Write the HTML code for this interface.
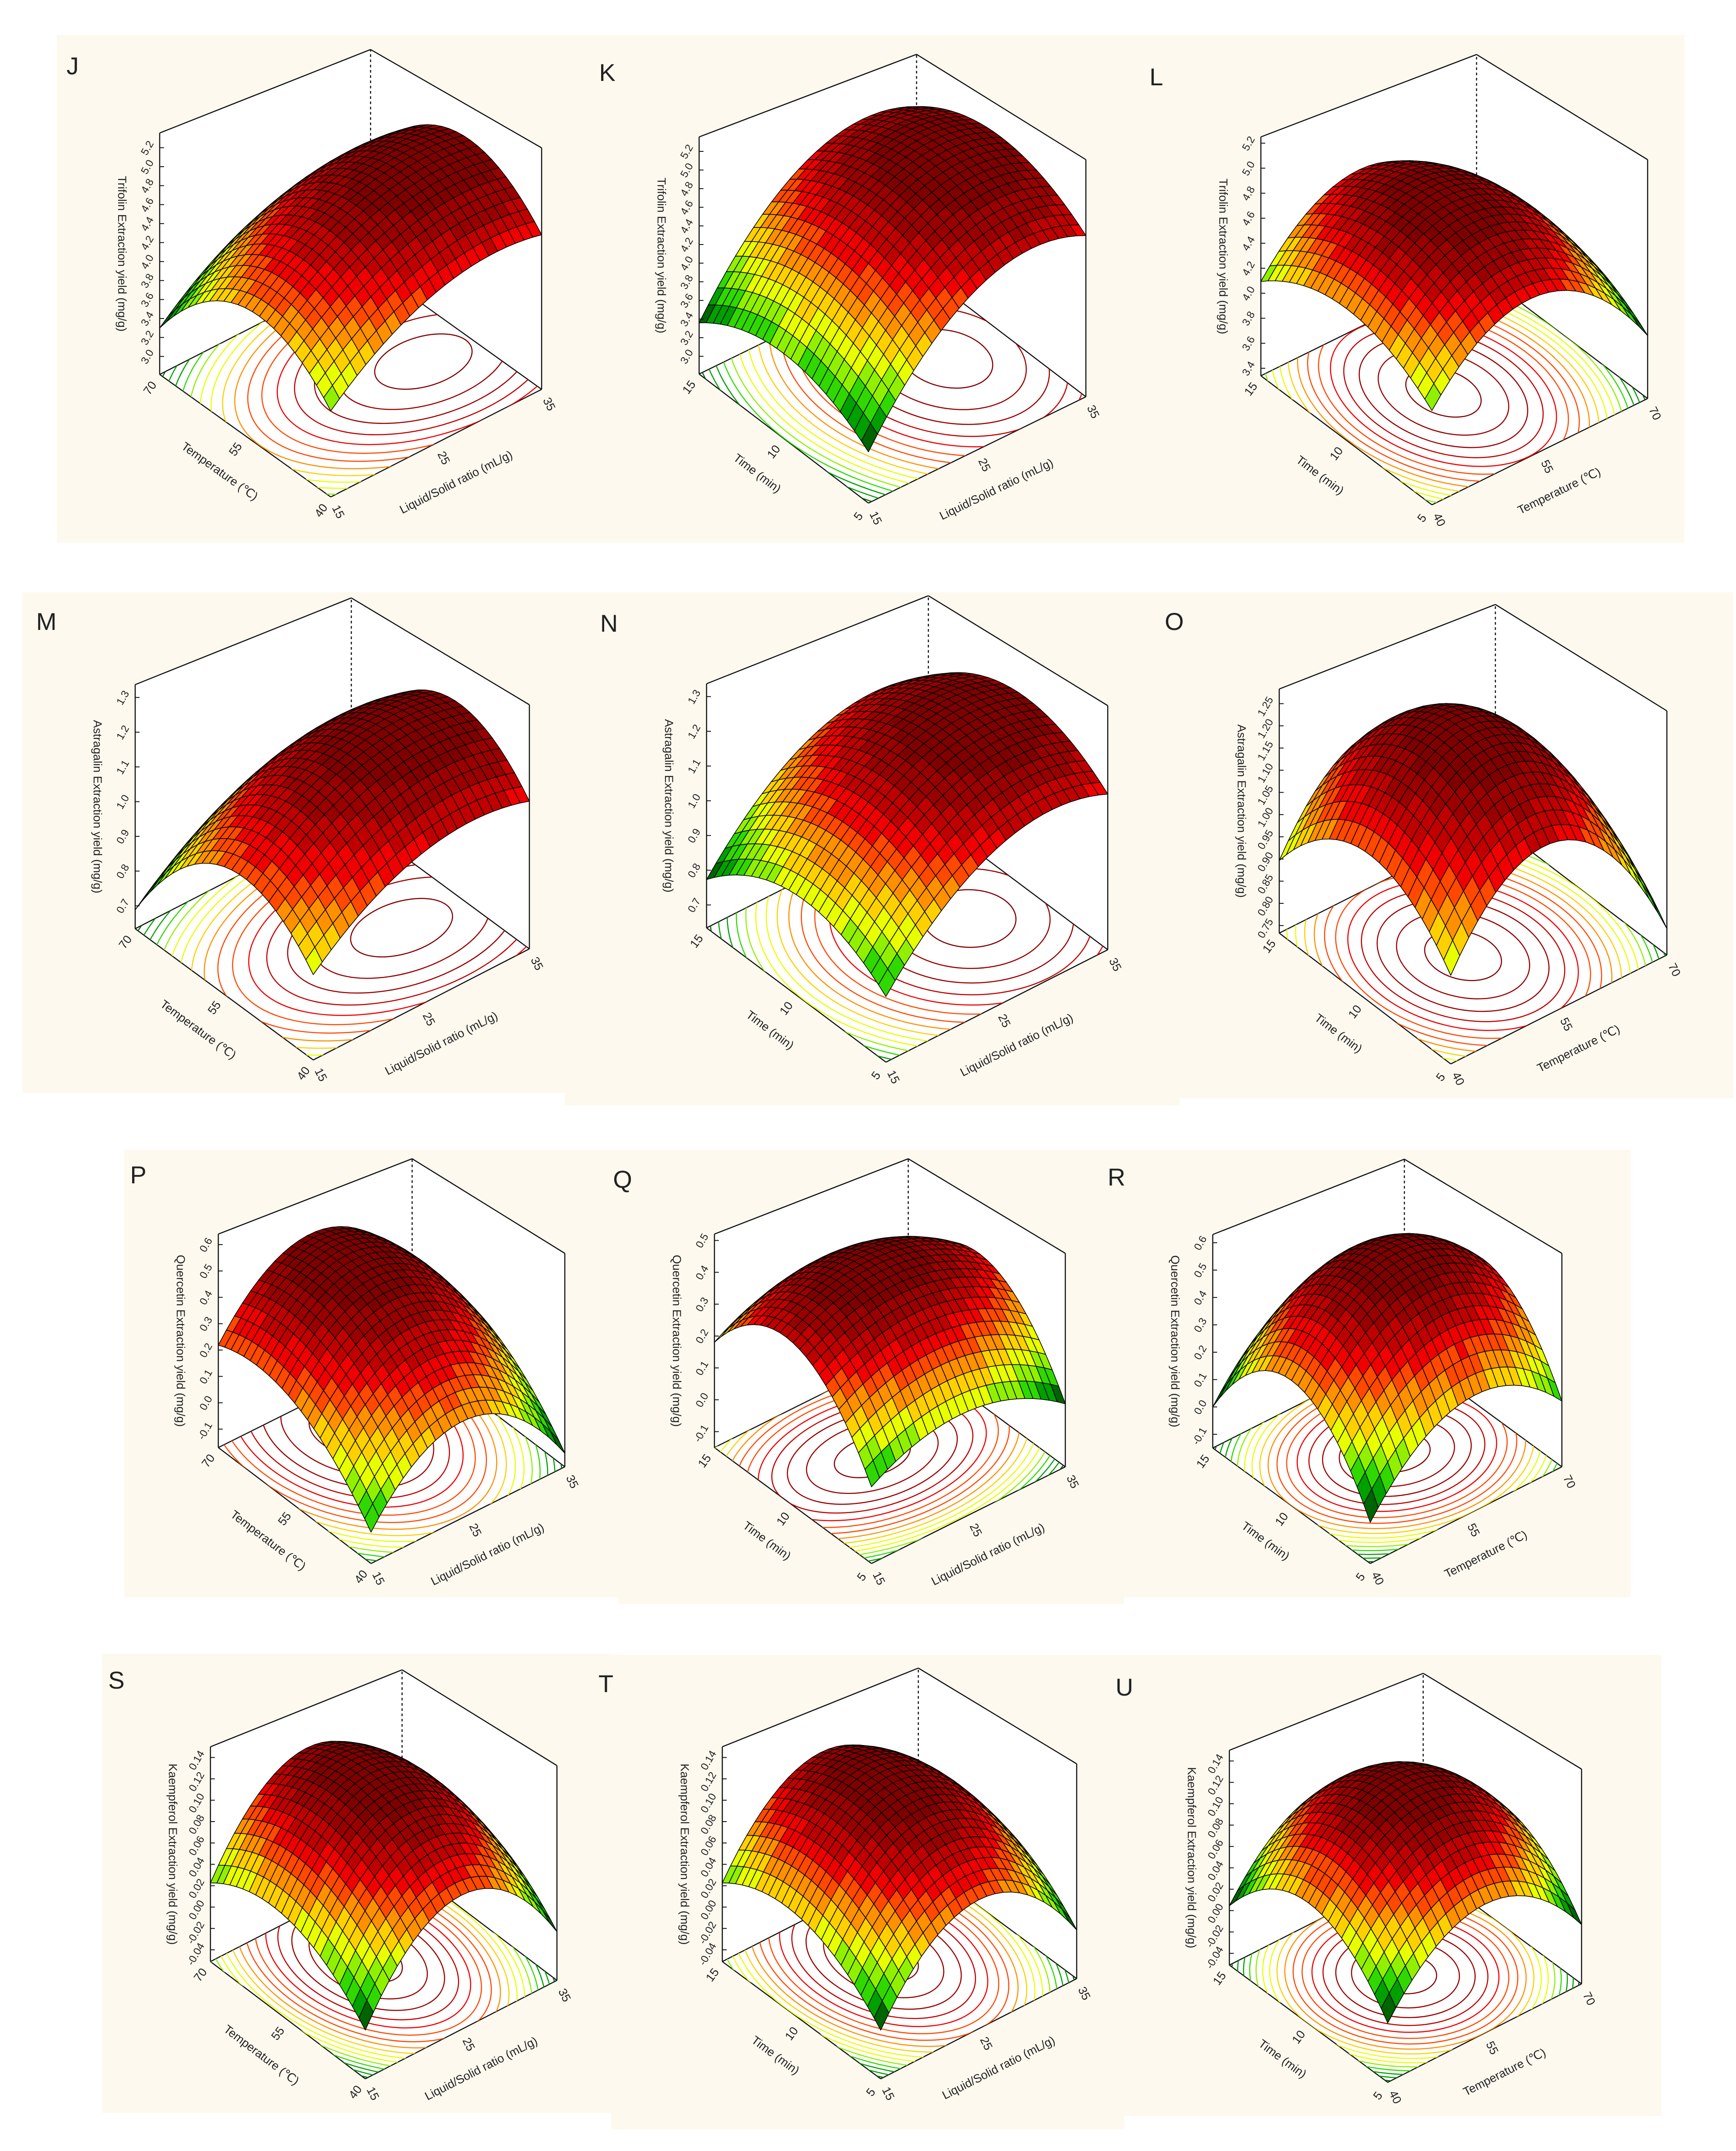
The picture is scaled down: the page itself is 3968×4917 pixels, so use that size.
<!DOCTYPE html>
<html><head><meta charset="utf-8">
<style>
html,body{margin:0;padding:0;background:#fff;}
svg{display:block;font-family:"Liberation Sans",sans-serif;}
</style></head>
<body>
<svg id="fig" xmlns="http://www.w3.org/2000/svg" width="3968" height="4917" viewBox="0 0 3968 4917">
<g id="bgs">
<rect x="130" y="80" width="3720" height="1160" fill="#fdf9ef"/>
<rect x="51" y="1354" width="1240" height="1144" fill="#fdf9ef"/>
<rect x="1291" y="1354" width="1405" height="1173" fill="#fdf9ef"/>
<rect x="2696" y="1354" width="1266" height="1156" fill="#fdf9ef"/>
<rect x="284" y="2628" width="3443" height="1023" fill="#fdf9ef"/>
<rect x="1413" y="2628" width="1157" height="1039" fill="#fdf9ef"/>
<rect x="233" y="3780" width="1164" height="1050" fill="#fdf9ef"/>
<rect x="1397" y="3783" width="1173" height="1085" fill="#fdf9ef"/>
<rect x="2570" y="3783" width="1227" height="1054" fill="#fdf9ef"/>
</g>
<g id="panels"></g>
</svg>
<script>
// ---- chart data ----
const panelIds=['J','K','L','M','N','O','P','Q','R','S','T','U'];
const zTitles=['Trifolin Extraction yield (mg/g)','Trifolin Extraction yield (mg/g)','Trifolin Extraction yield (mg/g)',
'Astragalin Extraction yield (mg/g)','Astragalin Extraction yield (mg/g)','Astragalin Extraction yield (mg/g)',
'Quercetin Extraction yield (mg/g)','Quercetin Extraction yield (mg/g)','Quercetin Extraction yield (mg/g)',
'Kaempferol Extraction yield (mg/g)','Kaempferol Extraction yield (mg/g)','Kaempferol Extraction yield (mg/g)'];
const leftAxisTitles=['Temperature (℃)','Time (min)','Time (min)','Temperature (℃)','Time (min)','Time (min)','Temperature (℃)','Time (min)','Time (min)','Temperature (℃)','Time (min)','Time (min)'];
const rightAxisTitles=['Liquid/Solid ratio (mL/g)','Liquid/Solid ratio (mL/g)','Temperature (℃)','Liquid/Solid ratio (mL/g)','Liquid/Solid ratio (mL/g)','Temperature (℃)','Liquid/Solid ratio (mL/g)','Liquid/Solid ratio (mL/g)','Temperature (℃)','Liquid/Solid ratio (mL/g)','Liquid/Solid ratio (mL/g)','Temperature (℃)'];
const tempTicks=['40','55','70'];
const timeTicks=['5','10','15'];
const ratioTicks=['15','25','35'];
const zTickLabels=[
['3.0','3.2','3.4','3.6','3.8','4.0','4.2','4.4','4.6','4.8','5.0','5.2'],
['3.0','3.2','3.4','3.6','3.8','4.0','4.2','4.4','4.6','4.8','5.0','5.2'],
['3.4','3.6','3.8','4.0','4.2','4.4','4.6','4.8','5.0','5.2'],
['0.7','0.8','0.9','1.0','1.1','1.2','1.3'],
['0.7','0.8','0.9','1.0','1.1','1.2','1.3'],
['0.75','0.80','0.85','0.90','0.95','1.00','1.05','1.10','1.15','1.20','1.25'],
['-0.1','0.0','0.1','0.2','0.3','0.4','0.5','0.6'],
['-0.1','0.0','0.1','0.2','0.3','0.4','0.5'],
['-0.1','0.0','0.1','0.2','0.3','0.4','0.5','0.6'],
['-0.04','-0.02','0.00','0.02','0.04','0.06','0.08','0.10','0.12','0.14'],
['-0.04','-0.02','0.00','0.02','0.04','0.06','0.08','0.10','0.12','0.14'],
['-0.04','-0.02','0.00','0.02','0.04','0.06','0.08','0.10','0.12','0.14']];
const zAxisMin=[2.81,2.81,3.34,0.634,0.634,0.733,-0.17,-0.15,-0.15,-0.051,-0.051,-0.051];
const zAxisMax=[5.355,5.355,5.25,1.337,1.337,1.283,0.64,0.52,0.63,0.150,0.150,0.150];
const peakValue=[4.96,5.05,4.9,1.22,1.22,1.25,0.5,0.45,0.58,0.125,0.12,0.127];
const peakU=[0.78,0.75,0.45,0.73,0.74,0.43,0.47,0.45,0.55,0.5,0.5,0.5];
const peakV=[0.42,0.5,0.5,0.39,0.45,0.47,0.75,0.55,0.5,0.6,0.6,0.5];
const curvU=[1.29,2.36,2.5,0.39,0.54,1.0,1.12,0.43,0.9,0.32,0.3,0.26];
const curvV=[2.6,1.45,1.2,0.87,0.5,0.6,0.54,0.9,1.23,0.14,0.14,0.23];

// ---- layout (pixels) ----
const frontX=[756,1985,3273,716,2025,3316,848,1992,3132,835,2013,3172];
const frontY=[1136,1150,1154,2423,2428,2432,3574,3574,3574,4752,4752,4760];
const exX=[482,497,493,494,507,494,443,443,438,438,448,443];
const exY=[-246,-243,-243,-254,-257,-249,-221,-221,-221,-225,-229,-225];
const eyX=[-391,-387,-391,-407,-410,-392,-349,-359,-360,-354,-362,-362];
const eyY=[-280,-295,-295,-300,-307,-299,-265,-265,-264,-268,-268,-268];
const ezH=[552,542,546,558,558,558,488,488,488,491,491,491];
const letterX=[166,1388,2643,106,1392,2684,316,1423,2552,266,1385,2570];
const letterY=[150,165,175,1420,1424,1420,2685,2695,2690,3840,3848,3856];

const NS='http://www.w3.org/2000/svg';
const palette=['#006400','#00a000','#30d800','#90f000','#e8ff00','#ffd000','#ff9000','#ff4800','#f00000','#c00000','#9a0000','#800000'];
function colorFor(t){let k=Math.floor(t*palette.length);if(k<0)k=0;if(k>=palette.length)k=palette.length-1;return palette[k];}
function mk(tag,attrs,parent){const e=document.createElementNS(NS,tag);for(const k in attrs)e.setAttribute(k,attrs[k]);if(parent)parent.appendChild(e);return e;}
const root=document.getElementById('panels');
const GRID=24;

for(let p=0;p<panelIds.length;p++){
  const g=mk('g',{},root);
  
  
  const fx=frontX[p],fy=frontY[p],ex=[exX[p],exY[p]],ey=[eyX[p],eyY[p]],ez=ezH[p];
  const zmin=zAxisMin[p],zmax=zAxisMax[p];
  const zf=(u,v)=>peakValue[p]-curvU[p]*(u-peakU[p])**2-curvV[p]*(v-peakV[p])**2;
  const proj=(u,v,z)=>[fx+u*ex[0]+v*ey[0],fy+u*ex[1]+v*ey[1]-(z-zmin)/(zmax-zmin)*ez];
  const F=proj(0,0,zmin),R=proj(1,0,zmin),L=proj(0,1,zmin),B=proj(1,1,zmin);
  const Rt=proj(1,0,zmax),Lt=proj(0,1,zmax);
  const Bt=[B[0],B[1]-0.9*ez];
  const pt=a=>a[0].toFixed(1)+','+a[1].toFixed(1);
  const hex=mk('polygon',{points:[Lt,Bt,Rt,R,F,L].map(pt).join(' '),fill:'#ffffff',stroke:'none'},g);
  
  
  const lines=[[B,Bt],[L,B],[R,B],[Lt,Bt],[Bt,Rt],[L,Lt],[R,Rt],[F,L],[F,R]];
  const boxG=mk('g',{stroke:'#111',"stroke-width":2.5,fill:'none'},g);
  
  
  for(const [a,b] of lines){mk('line',{x1:a[0],y1:a[1],x2:b[0],y2:b[1],"stroke-dasharray":(a===B&&b===Bt)?'6,6':'none'},boxG);}
  let smin=1e9,smax=-1e9;
  for(let i=0;i<=GRID;i++)for(let j=0;j<=GRID;j++){const z=zf(i/GRID,j/GRID);smin=Math.min(smin,z);smax=Math.max(smax,z);}
  const cg=mk('g',{transform:`matrix(${ex[0]},${ex[1]},${ey[0]},${ey[1]},${F[0]},${F[1]})`},g);
  
  
  const cid='clip'+p;
  const cp=mk('clipPath',{id:cid},cg);mk('rect',{x:0,y:0,width:1,height:1},cp);
  const cc=mk('g',{"clip-path":`url(#${cid})`},cg);
  const NL=16;
  for(let k=0;k<NL;k++){
    const lev=smin+(peakValue[p]-smin)*(k+0.5)/NL;
    const d=peakValue[p]-lev;
    const el=mk('ellipse',{cx:peakU[p],cy:peakV[p],rx:Math.sqrt(d/curvU[p]),ry:Math.sqrt(d/curvV[p]),fill:'none',stroke:colorFor((lev-smin)/(smax-smin)),"stroke-width":2.5,"vector-effect":"non-scaling-stroke"},cc);
    
    
  }
  const sg=mk('g',{stroke:'#000',"stroke-width":1.6,"stroke-linejoin":"round"},g);
  
  
  const cells=[];
  for(let i=0;i<GRID;i++)for(let j=0;j<GRID;j++)cells.push([i,j]);
  cells.sort((a,b)=>(b[0]+b[1])-(a[0]+a[1]));
  for(const [i,j] of cells){
    const u0=i/GRID,u1=(i+1)/GRID,v0=j/GRID,v1=(j+1)/GRID;
    const zc=zf((u0+u1)/2,(v0+v1)/2);
    const pts=[proj(u0,v0,zf(u0,v0)),proj(u1,v0,zf(u1,v0)),proj(u1,v1,zf(u1,v1)),proj(u0,v1,zf(u0,v1))];
    const poly=mk('polygon',{points:pts.map(pt).join(' '),fill:colorFor((zc-smin)/(smax-smin))},sg);
    
    
  }
  const tg=mk('g',{fill:'#222',"font-size":24},g);
  
  
  const labs=zTickLabels[p];
  for(let k=0;k<labs.length;k++){
    const val=parseFloat(labs[k]);
    const q=proj(0,1,val);
    mk('line',{x1:q[0],y1:q[1],x2:q[0]+10,y2:q[1],stroke:'#111',"stroke-width":2},tg);
    const t=mk('text',{x:q[0]-12,y:q[1]+8,"text-anchor":"end",transform:`rotate(-60 ${q[0]-28} ${q[1]})`},tg);
    t.textContent=labs[k];
    
    
  }
  const mid=proj(0,1,(zmin+zmax)/2);
  const zt=mk('text',{x:mid[0]-95,y:mid[1],"text-anchor":"middle","font-size":27,fill:'#222',transform:`rotate(90 ${mid[0]-95} ${mid[1]})`},g);
  zt.textContent=zTitles[p];
  
  
  const leftTicks=leftAxisTitles[p].startsWith('Temp')?tempTicks:timeTicks;
  const rightTicks=rightAxisTitles[p].startsWith('Temp')?tempTicks:ratioTicks;
  const angL=Math.atan2(-ey[1],-ey[0])*180/Math.PI;
  const angR=Math.atan2(ex[1],ex[0])*180/Math.PI;
  const nlen=Math.hypot(ey[0],ey[1]),nL=[ey[1]/nlen,-ey[0]/nlen];
  const nrl=Math.hypot(ex[0],ex[1]),nR=[-ex[1]/nrl,ex[0]/nrl];
  if(nL[1]<0){nL[0]=-nL[0];nL[1]=-nL[1];}
  if(nR[1]<0){nR[0]=-nR[0];nR[1]=-nR[1];}
  for(let k=0;k<3;k++){
    const a=proj(0,k/2,zmin),b=proj(k/2,0,zmin);
    const x1=a[0]+nL[0]*38,y1=a[1]+nL[1]*38;
    const t1=mk('text',{x:x1,y:y1+9,"text-anchor":"middle","font-size":27,fill:'#222',transform:`rotate(${angL-90} ${x1} ${y1})`},g);
    t1.textContent=leftTicks[k];
    
    
    const x2=b[0]+nR[0]*38,y2=b[1]+nR[1]*38;
    const t2=mk('text',{x:x2,y:y2+9,"text-anchor":"middle","font-size":27,fill:'#222',transform:`rotate(${angR+90} ${x2} ${y2})`},g);
    t2.textContent=rightTicks[k];
    
    
  }
  const mL=proj(0,0.5,zmin),mR=proj(0.5,0,zmin);
  const lx=mL[0]+nL[0]*100,ly=mL[1]+nL[1]*100;
  const lt=mk('text',{x:lx,y:ly+9,"text-anchor":"middle","font-size":27,fill:'#222',transform:`rotate(${angL} ${lx} ${ly})`},g);
  lt.textContent=leftAxisTitles[p];
  
  
  const rx=mR[0]+nR[0]*100,ry=mR[1]+nR[1]*100;
  const rt=mk('text',{x:rx,y:ry+9,"text-anchor":"middle","font-size":27,fill:'#222',transform:`rotate(${angR} ${rx} ${ry})`},g);
  rt.textContent=rightAxisTitles[p];
  
  
  const lt2=mk('text',{x:letterX[p],y:letterY[p]+20,"text-anchor":"middle","font-size":56,fill:'#222'},g);
  lt2.textContent=panelIds[p];
  
  
}
</script>
</body></html>
